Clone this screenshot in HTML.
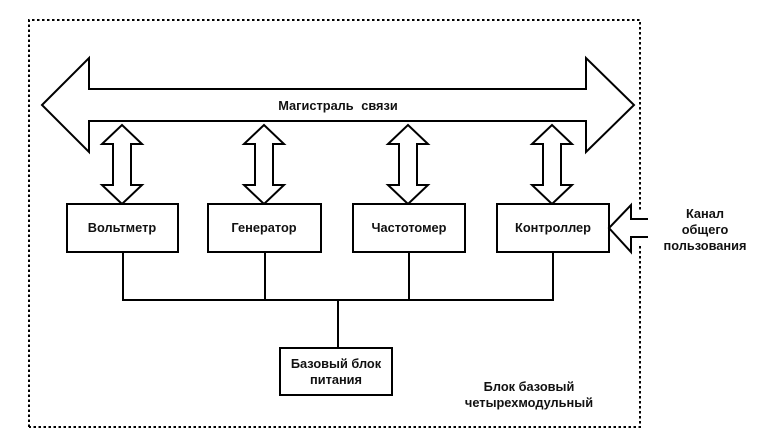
<!DOCTYPE html>
<html><head><meta charset="utf-8"><style>
html,body{margin:0;padding:0;background:#fff;}
svg{display:block;}
text{font-family:"Liberation Sans",Arial,sans-serif;font-weight:bold;font-size:12.8px;fill:#111;}
</style></head><body>
<svg width="769" height="441" viewBox="0 0 769 441" xmlns="http://www.w3.org/2000/svg">
<g fill="none" stroke="#000" stroke-width="2" stroke-dasharray="2.5,2.5">
<path d="M29,427 V20 H640 V212"/>
<path d="M640,246 V427 H29"/>
</g>
<g fill="#fff" stroke="#000" stroke-width="2" stroke-linejoin="miter">
<polygon points="42,105 89,58 89,89 586,89 586,58 634,105 586,152 586,121 89,121 89,152"/>
<polygon points="122,125 142,144 131,144 131,185 142,185 122,204 102,185 113,185 113,144 102,144"/>
<polygon points="264,125 284,144 273,144 273,185 284,185 264,204 244,185 255,185 255,144 244,144"/>
<polygon points="408,125 428,144 417,144 417,185 428,185 408,204 388,185 399,185 399,144 388,144"/>
<polygon points="552,125 572,144 561,144 561,185 572,185 552,204 532,185 543,185 543,144 532,144"/>
<rect x="67" y="204" width="111" height="48"/>
<rect x="208" y="204" width="113" height="48"/>
<rect x="353" y="204" width="112" height="48"/>
<rect x="497" y="204" width="112" height="48"/>
<rect x="280" y="348" width="112" height="47"/>
</g>
<path d="M648,219 H631 V205 L609,228 L631,252 V237 H648" fill="none" stroke="#000" stroke-width="2"/>
<path d="M123,252 V300 M265,252 V300 M409,252 V300 M553,252 V300 M122,300 H554 M338,300 V348" stroke="#000" stroke-width="2" fill="none"/>
<text x="338" y="110" text-anchor="middle" style="word-spacing:4px">Магистраль связи</text>
<text x="122" y="232" text-anchor="middle">Вольтметр</text>
<text x="264" y="232" text-anchor="middle">Генератор</text>
<text x="409" y="232" text-anchor="middle">Частотомер</text>
<text x="553" y="232" text-anchor="middle">Контроллер</text>
<text x="336" y="368" text-anchor="middle">Базовый блок</text>
<text x="336" y="384" text-anchor="middle">питания</text>
<text x="529" y="391" text-anchor="middle">Блок базовый</text>
<text x="529" y="407" text-anchor="middle">четырехмодульный</text>
<text x="705" y="218" text-anchor="middle">Канал</text>
<text x="705" y="234" text-anchor="middle">общего</text>
<text x="705" y="250" text-anchor="middle">пользования</text>
</svg>
</body></html>
